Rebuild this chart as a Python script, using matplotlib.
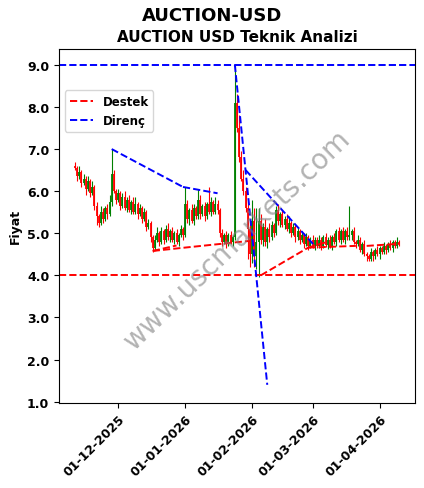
import numpy as np
import pandas as pd
import matplotlib
matplotlib.use('Agg')
from matplotlib import pyplot as plt
import matplotlib.dates as mdates

start_date = '2025-11-11'
closes = [
    6.55, 6.35, 6.45, 6.20, 6.30, 6.05, 6.25, 5.95, 6.10, 5.65,
    5.40, 5.25, 5.50, 5.35, 5.60, 5.45, 5.75, 6.40, 6.00, 5.80,
    5.95, 5.65, 5.85, 5.60, 5.80, 5.55, 5.75, 5.50, 5.70, 5.45,
    5.60, 5.35, 5.50, 5.15, 5.25, 4.90, 4.65, 4.85, 5.00, 4.80,
    5.05, 4.85, 5.10, 4.90, 5.05, 4.85, 5.00, 4.80, 4.95, 5.10,
    4.95, 5.70, 5.35, 5.55, 5.30, 5.60, 5.40, 5.80, 5.45, 5.65,
    5.40, 5.70, 5.50, 5.75, 5.50, 5.70, 5.55, 5.00, 4.80, 4.95,
    4.75, 4.95, 4.80, 4.90, 8.10, 7.50, 6.80, 6.30, 6.00, 5.60,
    5.10, 4.50, 5.30, 4.45, 4.80, 5.30, 4.85, 5.15, 4.80, 5.10,
    4.90, 5.20, 5.00, 5.55, 5.30, 5.45, 5.20, 5.35, 5.10, 5.25,
    5.00, 5.15, 4.90, 5.05, 4.85, 4.95, 4.75, 4.90, 4.70, 4.85,
    4.70, 4.85, 4.70, 4.85, 4.70, 4.90, 4.72, 4.85, 4.70, 4.90,
    4.80, 5.05, 4.85, 5.05, 4.85, 5.05, 4.90, 4.95, 5.05, 4.80,
    4.75, 4.85, 4.60, 4.75, 4.50, 4.45, 4.38, 4.55, 4.45, 4.60,
    4.50, 4.65, 4.55, 4.70, 4.60, 4.75, 4.65, 4.80, 4.70, 4.80,
    4.75,
]
first_open = 6.60
# how far each candle's wick reaches above / below its body
upper_wick = [
    .10, .05, .15, .05, .10, .05, .12, .05, .15, .05, .10, .05, .15, .10, .05, .10, .15, .60, .10, .05,
    .10, .05, .10, .15, .05, .10, .05, .10, .15, .05, .10, .05, .10, .05, .10, .05, .05, .10, .15, .05,
    .10, .05, .10, .15, .05, .10, .05, .10, .05, .10, .05, .40, .10, .05, .15, .10, .05, .25, .10, .05,
    .10, .05, .40, .10, .05, .15, .10, .05, .10, .05, .10, .05, .10, .05, .90, .20, .30, .15, .20, .10,
    .15, .20, .50, .30, .80, .30, .15, .10, .20, .05, .15, .10, .05, .10, .15, .05, .10, .05, .10, .15,
    .05, .10, .05, .10, .05, .10, .05, .10, .05, .05, .10, .05, .05, .10, .05, .05, .10, .05, .10, .05,
    .10, .05, .10, .05, .10, .05, .10, .70, .05, .10, .05, .10, .05, .05, .10, .05, .05, .10, .05, .05,
    .10, .05, .05, .10, .05, .05, .10, .05, .05, .10, .05,
]
lower_wick = [
    .05, .10, .05, .10, .05, .15, .05, .10, .05, .10, .20, .10, .05, .10, .05, .10, .05, .10, .05, .10,
    .05, .10, .05, .05, .10, .05, .10, .05, .05, .10, .05, .10, .05, .10, .05, .10, .10, .05, .05, .10,
    .05, .10, .05, .05, .10, .05, .10, .05, .10, .05, .10, .05, .10, .15, .05, .10, .05, .05, .10, .05,
    .10, .05, .05, .10, .05, .05, .10, .10, .10, .05, .10, .05, .05, .10, .05, .10, .10, .05, .10, .10,
    .70, .30, .20, .25, .30, .85, .10, .15, .10, .15, .10, .05, .10, .05, .10, .15, .05, .10, .05, .10,
    .10, .05, .10, .05, .10, .05, .10, .05, .10, .05, .05, .10, .05, .05, .10, .05, .05, .10, .05, .10,
    .05, .10, .05, .10, .05, .10, .05, .05, .10, .05, .10, .05, .05, .10, .05, .10, .05, .05, .10, .05,
    .05, .10, .05, .05, .10, .05, .05, .10, .05, .05, .05,
]

# trend lines: ((date, price), (date, price))
resistance_lines = [
    (('2025-11-28', 7.0), ('2025-12-31', 6.1)),
    (('2025-12-31', 6.1), ('2026-01-16', 5.95)),
    (('2026-01-24', 9.0), ('2026-02-08', 1.4)),
    (('2026-01-29', 6.5), ('2026-03-02', 4.7)),
]
support_lines = [
    (('2025-12-17', 4.58), ('2025-12-28', 4.71)),
    (('2025-12-17', 4.58), ('2026-01-31', 4.82)),
    (('2026-02-05', 4.0), ('2026-02-27', 4.66)),
    (('2026-02-27', 4.66), ('2026-03-21', 4.70)),
    (('2026-02-27', 4.66), ('2026-03-08', 4.80)),
    (('2026-03-26', 4.70), ('2026-04-10', 4.75)),
]
support_level = 4.0
resistance_level = 9.0

dates = pd.date_range(start_date, periods=len(closes), freq='D')
opens = [first_open] + closes[:-1]

fig = plt.figure(figsize=(4.24, 4.89), dpi=100)
ax = fig.add_axes([0.139, 0.174, 0.840, 0.724])

for d, o, c, uw, lw in zip(dates, opens, closes, upper_wick, lower_wick):
    color = 'green' if c >= o else 'red'
    ax.vlines(d, min(o, c) - lw, max(o, c) + uw, color=color, linewidth=0.8)
    ax.vlines(d, min(o, c), max(o, c), color=color, linewidth=1.3)

ax.axhline(support_level, color='red', linestyle='--', linewidth=1.4, label='Destek')
ax.axhline(resistance_level, color='blue', linestyle='--', linewidth=1.4, label='Direnç')

for (d1, p1), (d2, p2) in support_lines:
    ax.plot([pd.Timestamp(d1), pd.Timestamp(d2)], [p1, p2], color='red', linestyle='--', linewidth=1.4)
for (d1, p1), (d2, p2) in resistance_lines:
    ax.plot([pd.Timestamp(d1), pd.Timestamp(d2)], [p1, p2], color='blue', linestyle='--', linewidth=1.4)

ax.set_xlim(pd.Timestamp('2025-11-03 14:00'), pd.Timestamp('2026-04-17 10:00'))
ax.set_ylim(0.97, 9.38)
ax.set_yticks(np.arange(1, 10, 1))
ax.yaxis.set_major_formatter(plt.FormatStrFormatter('%.1f'))
ax.xaxis.set_major_locator(mdates.MonthLocator())
ax.xaxis.set_major_formatter(mdates.DateFormatter('%d-%m-%Y'))
plt.setp(ax.get_xticklabels(), rotation=45, ha='right', rotation_mode='anchor', fontweight='bold', fontsize=9)
plt.setp(ax.get_yticklabels(), fontweight='bold', fontsize=9)
ax.set_ylabel('Fiyat', fontweight='bold', fontsize=9)
ax.set_title('AUCTION USD Teknik Analizi', fontweight='bold', fontsize=11)
fig.suptitle('AUCTION-USD', fontweight='bold', fontsize=13, y=0.985)

leg = ax.legend(loc='upper left', bbox_to_anchor=(0.0, 0.9), prop={'weight': 'bold', 'size': 8.5})

fig.text(0.56, 0.51, 'www.uscmarkets.com', fontsize=20, color='gray', alpha=0.6,
         rotation=44, ha='center', va='center')

fig.savefig('out.png', dpi=100)
